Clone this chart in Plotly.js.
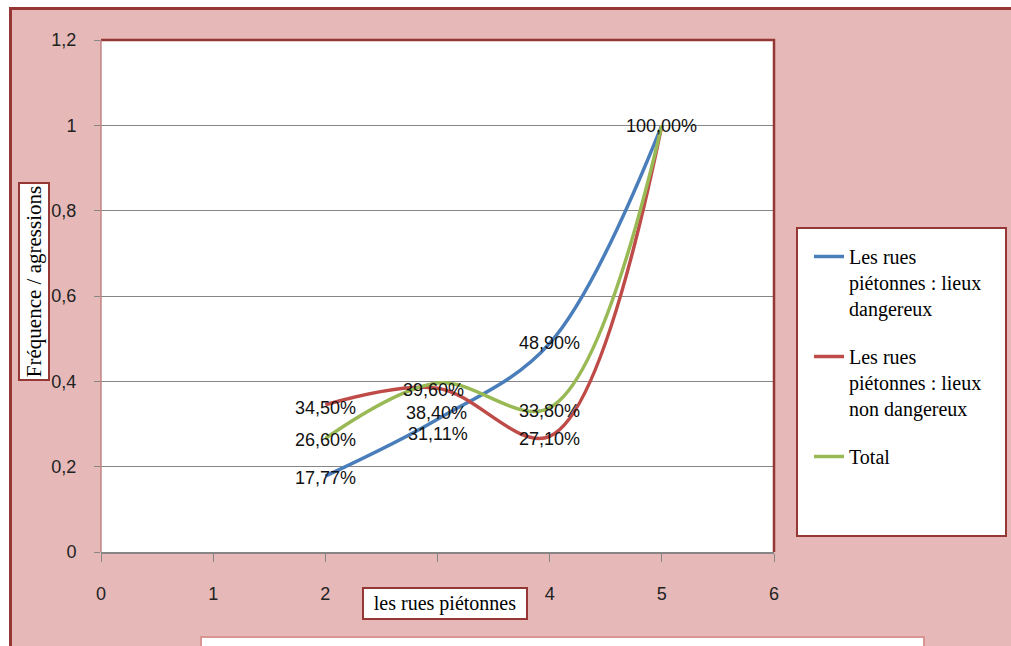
<!DOCTYPE html>
<html>
<head>
<meta charset="utf-8">
<script src="https://cdn.plot.ly/plotly-3.0.1.min.js"></script>
<style>html,body{margin:0;padding:0;background:#fff;}#chart{width:1011px;height:646px;}</style>
</head>
<body>
<div id="chart"></div>
<script>
// ---- data ----
const xValues = [2, 3, 4, 5];
const seriesNames = [
  'Les rues<br>piétonnes : lieux<br>dangereux',
  'Les rues<br>piétonnes : lieux<br>non dangereux',
  'Total'
];
const dangereux = [0.1777, 0.3111, 0.489, 1.0];
const nonDangereux = [0.345, 0.384, 0.271, 1.0];
const total = [0.266, 0.396, 0.338, 1.0];
const xTickLabels = ['0', '1', '2', '3', '4', '5', '6'];
const yTickLabels = ['0', '0,2', '0,4', '0,6', '0,8', '1', '1,2'];

// ---- styles ----
const colors = ['#4A7EBB', '#BE4B48', '#98B954'];
const labelYShift = [[-2, -15, 0, -1], [-3, -25, -3, -1], [-1, -7, -3, -1]];
const labelXShift = [[0, 0, 0, 0], [0, -1, 0, 0], [0, -4, 0, 0]];
const darkRed = '#953735';
const pink = '#E6B9B8';

// plot area in pixels
const L = 101, R = 774, T = 40, B = 552, W = 1011, H = 646;
const px = v => (v - L) / (R - L);
const py = v => (B - v) / (B - T);

const seriesValues = [dangereux, nonDangereux, total];
const traces = seriesValues.map((vals, i) => ({
  x: xValues, y: vals, type: 'scatter', mode: 'lines',
  name: seriesNames[i], legendgroup: 'g' + i,
  line: {color: colors[i], width: 3.5, shape: 'spline', smoothing: 1},
  hoverinfo: 'skip'
}));

const fmt = v => (v * 100).toFixed(2).replace('.', ',') + '%';
const annotations = [];
const seen = new Set();
seriesValues.forEach((vals, i) => {
  vals.forEach((v, j) => {
    const key = xValues[j] + '|' + v;
    if (seen.has(key)) return; // identical labels at the same spot show as one
    seen.add(key);
    annotations.push({
      x: xValues[j], y: v, xref: 'x', yref: 'y', text: fmt(v), showarrow: false,
      xanchor: 'center', yanchor: 'middle',
      yshift: labelYShift[i][j], xshift: labelXShift[i][j],
      font: {family: 'Liberation Sans, Arial, sans-serif', size: 18, color: '#111'}
    });
  });
});
// axis titles in boxes
annotations.push({
  xref: 'paper', yref: 'paper', x: px(33.5), y: py(281.5), text: 'Fréquence / agressions',
  textangle: -90, showarrow: false, xanchor: 'center', yanchor: 'middle',
  font: {family: 'Liberation Serif, Times New Roman, serif', size: 21, color: '#000'},
  bgcolor: '#fff', bordercolor: darkRed, borderwidth: 2, borderpad: 1, width: 193, height: 26
});
annotations.push({
  xref: 'paper', yref: 'paper', x: px(445), y: py(603.5), text: 'les rues piétonnes',
  showarrow: false, xanchor: 'center', yanchor: 'middle',
  font: {family: 'Liberation Serif, Times New Roman, serif', size: 20, color: '#000'},
  bgcolor: '#fff', bordercolor: darkRed, borderwidth: 2, borderpad: 1, width: 160, height: 27
});

const shapes = [
  // white margins outside the chart frame
  {type: 'rect', xref: 'paper', yref: 'paper', x0: px(-5), x1: px(10), y0: py(-5), y1: py(660), fillcolor: '#fff', line: {width: 0}, layer: 'below'},
  {type: 'rect', xref: 'paper', yref: 'paper', x0: px(-5), x1: px(1020), y0: py(-5), y1: py(8), fillcolor: '#fff', line: {width: 0}, layer: 'below'},
  // outer frame
  {type: 'path', xref: 'paper', yref: 'paper', path: `M ${px(10.5)} ${py(660)} L ${px(10.5)} ${py(8.5)} L ${px(1020)} ${py(8.5)}`, line: {color: darkRed, width: 3}, layer: 'below'},
  // legend box
  {type: 'rect', xref: 'paper', yref: 'paper', x0: px(797), x1: px(1006), y0: py(536), y1: py(228), fillcolor: '#fff', line: {color: darkRed, width: 2}, layer: 'below'},
  // bottom (cut) title box
  {type: 'rect', xref: 'paper', yref: 'paper', x0: px(201), x1: px(924), y0: py(665), y1: py(637), fillcolor: '#fff', line: {color: '#D99594', width: 2}, layer: 'below'},
  // plot area border: top + right, and thin left
  {type: 'path', xref: 'paper', yref: 'paper', path: `M 0 1 L 1 1 L 1 0`, line: {color: darkRed, width: 2.5}, layer: 'above'},
  {type: 'line', xref: 'paper', yref: 'paper', x0: 0, x1: 0, y0: 0, y1: 1, line: {color: '#B5706E', width: 1.2}, layer: 'above'}
];

const layout = {
  width: W, height: H, autosize: false,
  margin: {l: L, r: W - R, t: T, b: H - B, pad: 0},
  paper_bgcolor: pink, plot_bgcolor: '#fff',
  separators: ', ',
  showlegend: true,
  legend: {
    x: px(809), y: py(237), xanchor: 'left', yanchor: 'top',
    bgcolor: 'rgba(0,0,0,0)', borderwidth: 0, valign: 'top',
    tracegroupgap: 19, itemwidth: 30,
    font: {family: 'Liberation Serif, Times New Roman, serif', size: 20, color: '#000'}
  },
  xaxis: {
    range: [0, 6], tickvals: [0, 1, 2, 3, 4, 5, 6], ticktext: xTickLabels,
    showgrid: false, zeroline: false, showline: true, linecolor: '#868686', linewidth: 2,
    ticks: 'outside', ticklen: 8, tickcolor: '#868686', tickwidth: 1, ticklabelstandoff: 16,
    tickfont: {family: 'Liberation Sans, Arial, sans-serif', size: 18, color: '#222'},
    fixedrange: true
  },
  yaxis: {
    range: [0, 1.2], tickvals: [0, 0.2, 0.4, 0.6, 0.8, 1, 1.2], ticktext: yTickLabels,
    showgrid: true, gridcolor: '#868686', gridwidth: 1, zeroline: false, showline: false,
    ticks: 'outside', ticklen: 6, tickcolor: '#868686', tickwidth: 1, ticklabelstandoff: 14,
    tickfont: {family: 'Liberation Sans, Arial, sans-serif', size: 18, color: '#222'},
    fixedrange: true
  },
  annotations: annotations,
  shapes: shapes
};

Plotly.newPlot('chart', traces, layout, {displayModeBar: false, staticPlot: true});
</script>
</body>
</html>
